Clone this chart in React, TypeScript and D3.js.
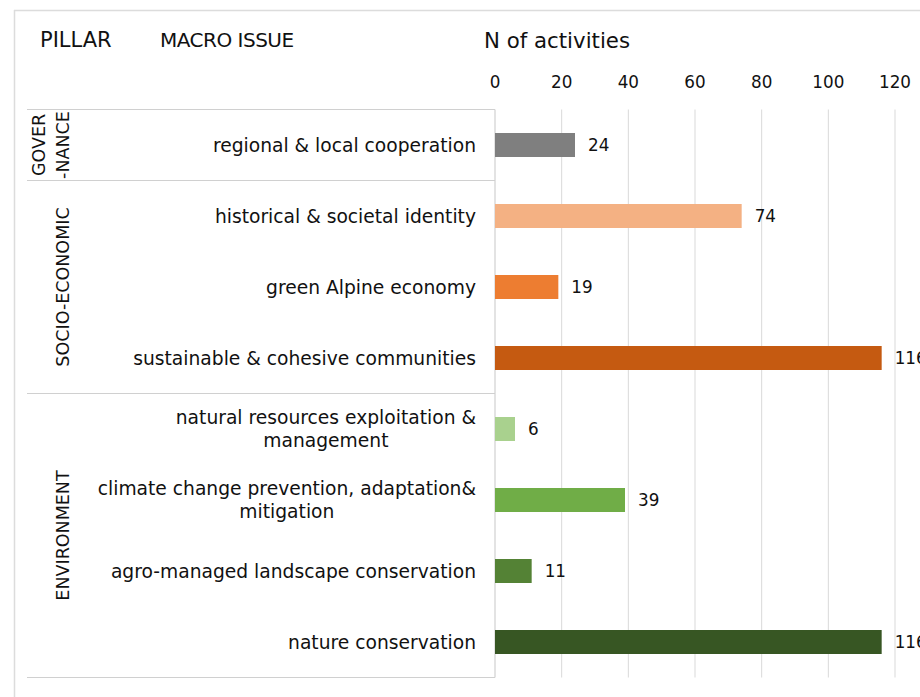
import React, { useEffect, useRef } from "react";
import * as d3 from "d3";

const categories: string[][] = [
  ["regional & local cooperation"],
  ["historical & societal identity"],
  ["green Alpine economy"],
  ["sustainable & cohesive communities"],
  ["natural resources exploitation &", "management"],
  ["climate change prevention, adaptation&", "mitigation"],
  ["agro-managed landscape conservation"],
  ["nature conservation"],
];
const values: number[] = [24, 74, 19, 116, 6, 39, 11, 116];
const barColors: string[] = [
  "#7f7f7f", "#f4b183", "#ed7d31", "#c55a11",
  "#a9d18e", "#70ad47", "#548235", "#375623",
];
const pillars: string[][] = [["GOVER", "-NANCE"], ["SOCIO-ECONOMIC"], ["ENVIRONMENT"]];
const pillarSpans: number[][] = [[0, 1], [1, 4], [4, 8]];
const ticks: number[] = [0, 20, 40, 60, 80, 100, 120];

const W = 920;
const H = 697;
const FONT = "'DejaVu Sans', Verdana, sans-serif";

export default function App() {
  const ref = useRef<SVGSVGElement>(null);

  useEffect(() => {
    const svg = d3.select(ref.current);
    svg.selectAll("*").remove();

    const x = d3.scaleLinear().domain([0, 120]).range([495, 895]);
    const ids = categories.map((_, i) => String(i));
    const y = d3
      .scaleBand<string>()
      .domain(ids)
      .range([109.5, 677.5])
      .paddingInner(0.662)
      .paddingOuter(0.331);
    const step = y.step();
    const top = 109.5;
    const bottom = 677.5;
    const tableLeft = 27;
    const labelRight = 476;

    // outer frame
    svg.append("line").attr("x1", 14).attr("x2", W + 10).attr("y1", 10.5).attr("y2", 10.5)
      .attr("stroke", "#dcdcdc").attr("stroke-width", 1.5);
    svg.append("line").attr("x1", 14.5).attr("x2", 14.5).attr("y1", 10).attr("y2", H + 10)
      .attr("stroke", "#dcdcdc").attr("stroke-width", 1.5);

    // gridlines
    svg.append("g").selectAll("line").data(ticks.slice(1)).join("line")
      .attr("x1", (d) => x(d)).attr("x2", (d) => x(d))
      .attr("y1", top).attr("y2", bottom)
      .attr("stroke", "#d9d9d9").attr("stroke-width", 1);

    // table lines
    const sepYs = [0, 1, 4, 8].map((k) => top + k * step);
    svg.append("g").selectAll("line").data(sepYs).join("line")
      .attr("x1", tableLeft).attr("x2", x(0)).attr("y1", (d) => d).attr("y2", (d) => d)
      .attr("stroke", "#d0d0d0").attr("stroke-width", 1.2);
    svg.append("line").attr("x1", x(0)).attr("x2", x(0)).attr("y1", top).attr("y2", bottom)
      .attr("stroke", "#d0d0d0").attr("stroke-width", 1.2);

    // headers
    const hdr = svg.append("g").attr("font-family", FONT).attr("fill", "#111");
    hdr.append("text").attr("x", 40).attr("y", 47).attr("font-size", 21).text("PILLAR");
    hdr.append("text").attr("x", 160).attr("y", 47).attr("font-size", 20).attr("letter-spacing", -0.5).text("MACRO ISSUE");
    hdr.append("text").attr("x", 484).attr("y", 48).attr("font-size", 21.3).text("N of activities");

    // tick labels
    svg.append("g").selectAll("text").data(ticks).join("text")
      .attr("x", (d) => x(d)).attr("y", 88)
      .attr("text-anchor", "middle").attr("font-family", FONT).attr("font-size", 16.8)
      .attr("fill", "#111").text((d) => String(d));

    // bars
    svg.append("g").selectAll("rect").data(values).join("rect")
      .attr("x", x(0)).attr("y", (_, i) => y(ids[i]) as number)
      .attr("width", (d) => x(d) - x(0)).attr("height", y.bandwidth())
      .attr("fill", (_, i) => barColors[i]);

    // value labels
    svg.append("g").selectAll("text").data(values).join("text")
      .attr("x", (d) => x(d) + 13)
      .attr("y", (_, i) => (y(ids[i]) as number) + y.bandwidth() / 2)
      .attr("dy", "0.36em").attr("font-family", FONT).attr("font-size", 16.8)
      .attr("fill", "#111").text((d) => String(d));

    // category labels
    const lg = svg.append("g").attr("font-family", FONT).attr("font-size", 18.7).attr("fill", "#111");
    categories.forEach((lines, i) => {
      const cy = (y(ids[i]) as number) + y.bandwidth() / 2;
      const lh = 23;
      const t0 = cy - ((lines.length - 1) * lh) / 2;
      const first = lg.append("text").attr("x", labelRight).attr("y", t0).attr("dy", "0.36em")
        .attr("text-anchor", "end").text(lines[0]);
      if (lines.length > 1) {
        const w = (first.node() as SVGTextElement).getComputedTextLength();
        const mid = labelRight - w / 2;
        lines.slice(1).forEach((ln, k) => {
          lg.append("text").attr("x", mid).attr("y", t0 + (k + 1) * lh).attr("dy", "0.36em")
            .attr("text-anchor", "middle").text(ln);
        });
      }
    });

    // pillar labels (rotated)
    const pg = svg.append("g").attr("font-family", FONT).attr("font-size", 17.5).attr("fill", "#111");
    pillars.forEach((lines, i) => {
      const [a, b] = pillarSpans[i];
      const cy = top + ((a + b) / 2) * step;
      const baseX = 69;
      const lh = 24;
      lines.forEach((ln, k) => {
        const bx = baseX - (lines.length - 1 - k) * lh;
        pg.append("text")
          .attr("transform", `translate(${bx},${cy}) rotate(-90)`)
          .attr("text-anchor", "middle").text(ln);
      });
    });
  }, []);

  return (
    <svg
      ref={ref}
      width={W}
      height={H}
      style={{ position: "absolute", left: 0, top: 0, background: "#fff" }}
    />
  );
}
